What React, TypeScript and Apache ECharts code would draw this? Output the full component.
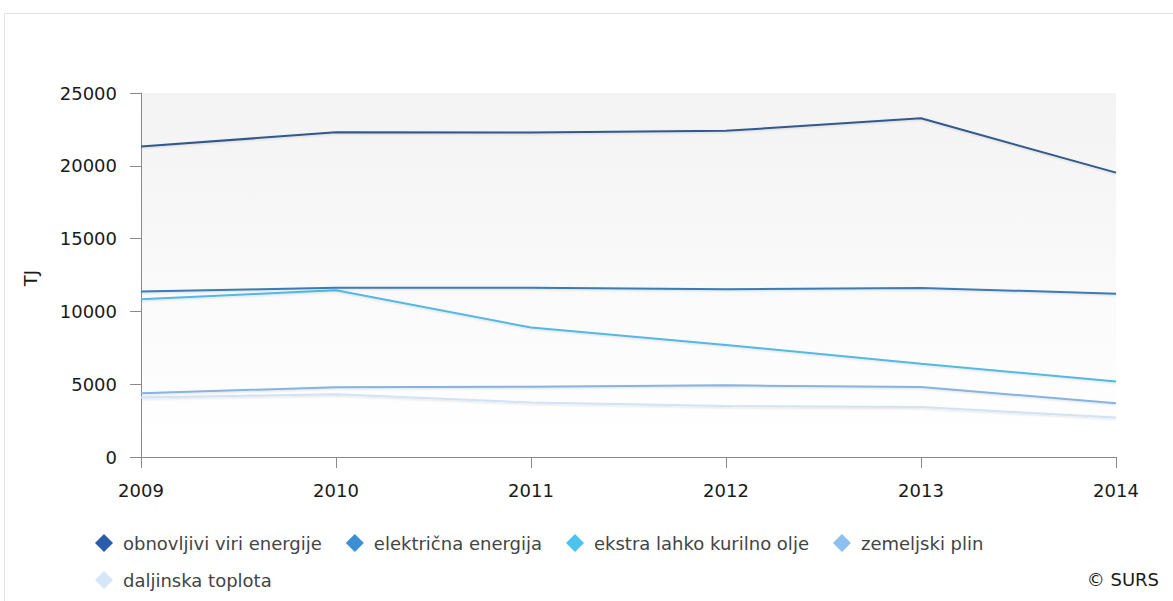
import React, { useEffect, useRef } from "react";
import * as echarts from "echarts";

const years = ["2009", "2010", "2011", "2012", "2013", "2014"];
const seriesNames = [
  "obnovljivi viri energije",
  "električna energija",
  "ekstra lahko kurilno olje",
  "zemeljski plin",
  "daljinska toplota",
];
const obnovljivi = [21320, 22300, 22290, 22400, 23260, 19530];
const elektricna = [11360, 11630, 11630, 11520, 11610, 11220];
const ekstraOlje = [10830, 11450, 8890, 7700, 6410, 5180];
const zemeljskiPlin = [4380, 4790, 4830, 4920, 4810, 3690];
const daljinska = [4080, 4310, 3740, 3500, 3430, 2710];
const legendColors = ["#2a5caa", "#3c8fd2", "#4fc3f0", "#8cc0ee", "#d5e6f7"];
const lineColors = ["#33598c", "#3a7bb3", "#52b9e3", "#86b3e0", "#d2e3f4"];
const yTicks = [0, 5000, 10000, 15000, 20000, 25000];

const FONT = "DejaVu Sans";

export default function App() {
  const ref = useRef<HTMLDivElement>(null);
  useEffect(() => {
    if (!ref.current) return;
    const chart = echarts.init(ref.current, null, { renderer: "svg" });
    const allData = [obnovljivi, elektricna, ekstraOlje, zemeljskiPlin, daljinska];
    const legendText = {
      fontFamily: FONT,
      fontSize: 18,
      color: "#444444",
      padding: [0, 0, 0, 5],
    };
    chart.setOption({
      animation: false,
      backgroundColor: "#ffffff",
      textStyle: { fontFamily: FONT },
      grid: {
        left: 141,
        right: 57,
        top: 93,
        bottom: 144,
        show: true,
        borderWidth: 0,
        backgroundColor: new echarts.graphic.LinearGradient(0, 0, 0, 1, [
          { offset: 0, color: "#f3f3f3" },
          { offset: 0.95, color: "#ffffff" },
          { offset: 1, color: "#ffffff" },
        ]),
      },
      legend: [
        {
          left: 90,
          top: 529,
          data: seriesNames.slice(0, 4).map((n, i) => ({
            name: n,
            itemStyle: { color: legendColors[i] },
          })),
          icon: "diamond",
          itemWidth: 18,
          itemHeight: 18,
          itemGap: 24,
          selectedMode: false,
          textStyle: legendText,
        },
        {
          left: 90,
          top: 566,
          data: seriesNames.slice(4).map((n, i) => ({
            name: n,
            itemStyle: { color: legendColors[4 + i] },
          })),
          icon: "diamond",
          itemWidth: 18,
          itemHeight: 18,
          selectedMode: false,
          textStyle: legendText,
        },
      ],
      xAxis: {
        type: "category",
        data: years,
        boundaryGap: false,
        axisLine: { show: true, lineStyle: { color: "#8a8a8a", width: 1 } },
        axisTick: { show: true, length: 11, lineStyle: { color: "#8a8a8a" } },
        axisLabel: {
          margin: 24,
          fontFamily: FONT,
          fontSize: 18,
          color: "#1a1a1a",
        },
        splitLine: { show: false },
      },
      yAxis: {
        type: "value",
        min: yTicks[0],
        max: yTicks[yTicks.length - 1],
        interval: 5000,
        axisLine: { show: true, lineStyle: { color: "#8a8a8a", width: 1 } },
        axisTick: { show: true, length: 11, lineStyle: { color: "#8a8a8a" } },
        axisLabel: {
          margin: 24,
          fontFamily: FONT,
          fontSize: 18,
          color: "#1a1a1a",
          formatter: (v: number) => String(v),
        },
        splitLine: { show: false },
      },
      graphic: [
        {
          type: "rect",
          shape: { x: 4.5, y: 13.5, width: 1300, height: 800 },
          style: { fill: "none", stroke: "#e3e3e3", lineWidth: 1 },
          silent: true,
          z: -10,
        },
        {
          type: "text",
          x: 30,
          y: 278,
          rotation: Math.PI / 2,
          style: {
            text: "TJ",
            fontFamily: FONT,
            fontSize: 18,
            fill: "#1a1a1a",
            align: "center",
            verticalAlign: "middle",
          },
        },
        {
          type: "text",
          right: 14,
          top: 570,
          style: {
            text: "© SURS",
            fontFamily: FONT,
            fontSize: 18,
            fill: "#1a1a1a",
          },
        },
      ],
      series: seriesNames.map((name, i) => ({
        name,
        type: "line",
        data: allData[i],
        showSymbol: false,
        symbol: "none",
        itemStyle: { color: legendColors[i] },
        lineStyle: {
          color: lineColors[i],
          width: 2,
          shadowColor: "rgba(0,0,0,0.12)",
          shadowBlur: 2,
          shadowOffsetY: 1,
        },
        z: 10 - i,
      })),
    });
    return () => chart.dispose();
  }, []);
  return (
    <div
      ref={ref}
      style={{ position: "fixed", left: 0, top: 0, width: 1173, height: 601 }}
    />
  );
}
